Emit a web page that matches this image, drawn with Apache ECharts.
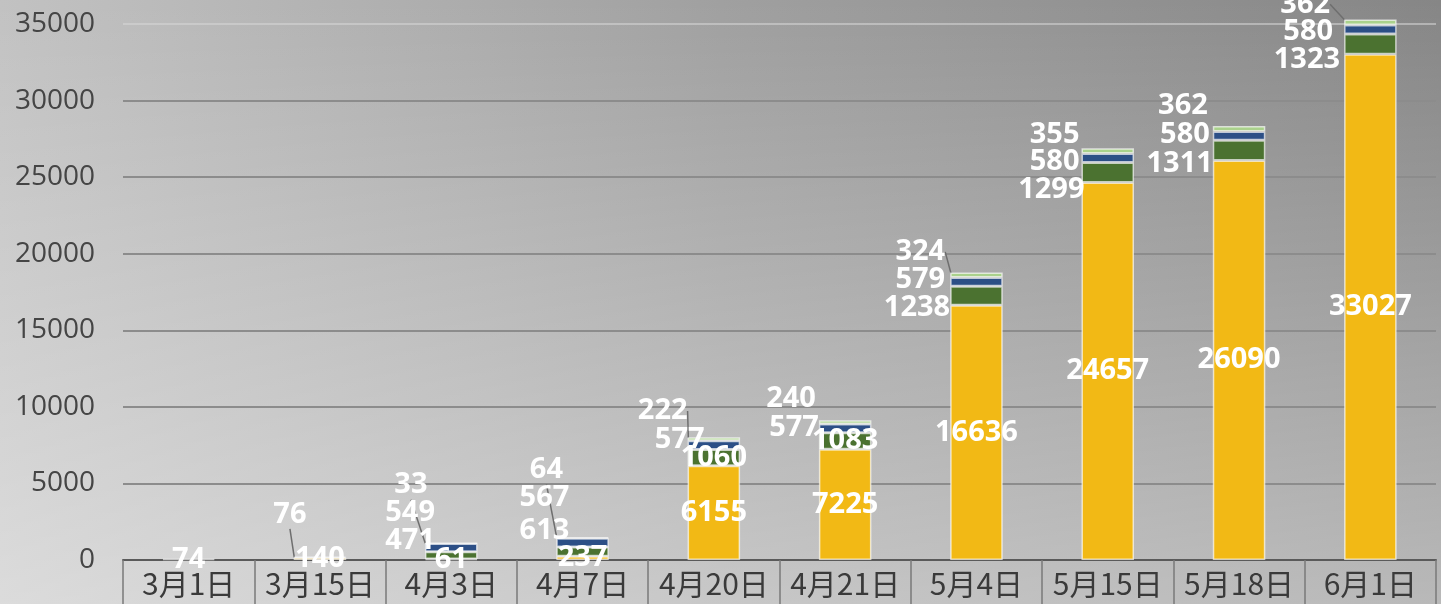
<!DOCTYPE html>
<html>
<head>
<meta charset="utf-8">
<script src="https://cdn.jsdelivr.net/npm/echarts@6/dist/echarts.min.js"></script>
<style>
  html, body { margin: 0; padding: 0; }
  body {
    width: 1441px; height: 604px; overflow: hidden;
    background:
      linear-gradient(to bottom, rgba(255,255,255,0) 0%, rgba(255,255,255,0.42) 100%),
      linear-gradient(to right, #c2c2c2 0%, #a0a0a0 50%, #868686 100%);
  }
  #chart { width: 1441px; height: 604px; }
</style>
</head>
<body>
<div id="chart"></div>
<script>
// categories and values
var dates = ['3月1日', '3月15日', '4月3日', '4月7日', '4月20日', '4月21日', '5月4日', '5月15日', '5月18日', '6月1日'];
var yellowVals = [74, 140, 61, 237, 6155, 7225, 16636, 24657, 26090, 33027];
var darkGreenVals = [null, null, 471, 613, 1060, 1083, 1238, 1299, 1311, 1323];
var blueVals = [null, null, 549, 567, 577, 577, 579, 580, 580, 580];
var lightGreenVals = [null, 76, 33, 64, 222, 240, 324, 355, 362, 362];

// label nudges (like the hand-dragged labels in the original)
var dgNudge = [[0,0],[0,0],[10,-15],[13,-21],[0,0],[0,0],[0,12],[3,17],[0,13],[-4,16]];
var blNudge = [[0,0],[0,0],[10,-35],[13,-45],[17,-5],[0,-1],[-5,-2],[-2,4],[-3,-1],[-11,2]];
var lgNudge = [[0,0],[13,-43],[3,-58],[7,-68],[0,-28],[-3,-23],[-5,-23],[-2,-16],[-5,-23],[-14,-18]];
var dgInside = [4, 5];
var lgLines = [1, 2, 3, 4, 6, 9];

var chartDom = document.getElementById('chart');
var myChart = echarts.init(chartDom);

var labelFont = {
    color: '#fff',
    fontFamily: 'Open Sans',
    fontWeight: 'bold',
    fontSize: 29
};

function nudger(arr){
    return function(p){
        var n = arr[p.dataIndex] || [0,0];
        return { dx: n[0], dy: n[1] };
    };
}

// top labels: move them and run the leader line to the top middle of the bar
function topNudger(arr){
    return function(p){
        var n = arr[p.dataIndex] || [0,0];
        var out = { dx: n[0], dy: n[1] };
        if (lgLines.indexOf(p.dataIndex) >= 0) {
            var lr = p.labelRect;
            var sx = lr.x + lr.width + n[0] + 5;
            var sy = lr.y + lr.height / 2 + n[1];
            var cx = p.rect.x + p.rect.width / 2;
            out.labelLinePoints = [[sx, sy], [sx + 10, sy], [cx, p.rect.y]];
        }
        return out;
    };
}

var border = { borderColor: 'rgba(255,255,255,0.65)', borderWidth: 1.5 };

var option = {
    animation: false,
    grid: { left: 123, right: 5, top: 24, bottom: 44 },
    xAxis: {
        type: 'category',
        data: dates,
        axisLine: { lineStyle: { color: '#5a5a5a', width: 2 } },
        axisTick: { show: true, length: 46, interval: 0, lineStyle: { color: '#7a7a7a', width: 1.5 } },
        axisLabel: {
            interval: 0, margin: 9,
            color: '#3a3a3a', fontSize: 30,
            fontFamily: 'Noto Sans CJK SC'
        }
    },
    yAxis: {
        type: 'value',
        min: 0, max: 35000, interval: 5000,
        axisLine: { show: false },
        axisTick: { show: false },
        axisLabel: {
            color: '#454545', fontSize: 28, fontFamily: 'Open Sans', margin: 28,
            formatter: function(v){ return String(v); }
        },
        splitLine: {
            lineStyle: {
                width: 2,
                color: ['#8c8c8c', '#8c8c8c', '#8c8c8c', '#8c8c8c', '#8c8c8c', '#8c8c8c', '#8c8c8c', 'rgba(215,215,215,0.55)']
            }
        }
    },
    series: [
        {
            name: 'a', type: 'bar', stack: 't', barWidth: '40%', clip: false,
            itemStyle: Object.assign({ color: '#f2b915' }, border),
            label: Object.assign({ show: true, position: 'inside' }, labelFont),
            data: yellowVals
        },
        {
            name: 'b', type: 'bar', stack: 't', clip: false,
            itemStyle: Object.assign({ color: '#4b7230' }, border),
            label: Object.assign({ show: true, position: 'left', distance: 0 }, labelFont),
            labelLayout: nudger(dgNudge),
            data: darkGreenVals.map(function(v, i){
                if (dgInside.indexOf(i) >= 0) return { value: v, label: { position: 'inside' } };
                return v;
            })
        },
        {
            name: 'c', type: 'bar', stack: 't', clip: false,
            itemStyle: Object.assign({ color: '#2c4f86' }, border),
            label: Object.assign({ show: true, position: 'left', distance: 0 }, labelFont),
            labelLayout: nudger(blNudge),
            data: blueVals
        },
        {
            name: 'd', type: 'bar', stack: 't', clip: false,
            itemStyle: Object.assign({ color: '#aad18c' }, border),
            label: Object.assign({ show: true, position: 'left', distance: 0 }, labelFont),
            labelLayout: topNudger(lgNudge),
            labelLine: { show: false, lineStyle: { color: '#6e6e6e', width: 1.5 } },
            data: lightGreenVals.map(function(v, i){
                if (lgLines.indexOf(i) >= 0) return { value: v, labelLine: { show: true, lineStyle: { color: '#6e6e6e', width: 1.5 } } };
                return v;
            })
        }
    ]
};

option && myChart.setOption(option);
</script>
</body>
</html>
